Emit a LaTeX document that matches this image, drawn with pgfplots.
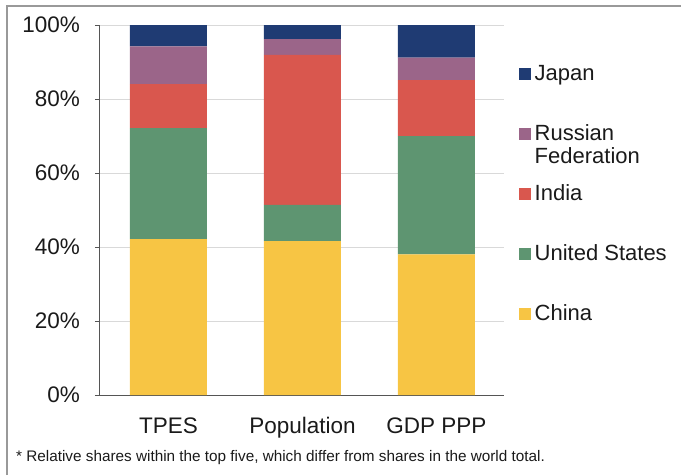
\documentclass[border=0pt]{standalone}
\usepackage{pgfplots}
\pgfplotsset{compat=1.18}
\usepackage{fontspec}
\setmainfont{Liberation Sans}
\definecolor{cJapan}{HTML}{1F3B73}
\definecolor{cRussia}{HTML}{9B6589}
\definecolor{cIndia}{HTML}{D9574E}
\definecolor{cUS}{HTML}{5E9571}
\definecolor{cChina}{HTML}{F7C544}
\definecolor{txt}{HTML}{1A1A1A}
\definecolor{axl}{HTML}{555555}
\definecolor{grd}{HTML}{D9D9D9}
\pgfplotsset{sqleg/.style={legend image code/.code={\fill[##1] (0pt,-4.5pt) rectangle (11.5pt,7pt);}}}
\pgfplotstableread{
x China US India Russia Japan
0 42.1 30.0 11.9 10.2 5.8
1 41.6 9.8 40.5 4.3 3.8
2 38.0 32.0 15.1 6.1 8.8
}\shares
\begin{document}
\begin{tikzpicture}
\useasboundingbox (0pt,0pt) rectangle (681pt,475pt);
\draw[color=gray!80, line width=1.2pt] (7pt,0pt) -- (7pt,469pt) -- (681pt,469pt);
\begin{axis}[
  at={(100pt,80pt)}, anchor=south west,
  width=404pt, height=370pt, scale only axis,
  ybar stacked, bar width=77pt,
  xmin=-0.511, xmax=2.504, ymin=0, ymax=100,
  xtick={0,1,2}, xticklabels={TPES,Population,GDP PPP},
  ytick={0,20,40,60,80,100},
  yticklabels={0\%,20\%,40\%,60\%,80\%,100\%},
  axis x line=bottom, axis y line=left,
  axis line style={axl, line width=1pt, -},
  x axis line style={-},
  y axis line style={-},
  xtick style={draw=none},
  ytick style={axl, line width=0.8pt},
  tick align=outside, major tick length=5pt,
  ymajorgrids, grid style={grd, line width=0.8pt},
  tick label style={font=\fontsize{22.5}{26}\selectfont, text=txt},
  x tick label style={anchor=base, inner sep=0pt, yshift=-33pt},
  y tick label style={anchor=east, inner sep=0pt, xshift=-15pt},
  reverse legend,
  legend cell align=left,
  legend style={draw=none, fill=none, at={(rel axis cs:1,1)}, anchor=north west,
    xshift=15pt, yshift=-39pt, inner sep=0pt, row sep=38pt, column sep=4pt,
    font=\fontsize{22}{26}\selectfont, text=txt,
    nodes={inner sep=0pt, text height=16pt, text depth=6pt}},
]
\addplot[fill=cChina, draw=none, sqleg] table[x=x, y=China] {\shares};
\addplot[fill=cUS, draw=none, sqleg] table[x=x, y=US] {\shares};
\addplot[fill=cIndia, draw=none, sqleg] table[x=x, y=India] {\shares};
\addplot[fill=cRussia, draw=none, sqleg] table[x=x, y=Russia] {\shares};
\addplot[fill=cJapan, draw=none, sqleg] table[x=x, y=Japan] {\shares};
\legend{China,United States,India,{\smash{\begin{tabular}[t]{@{}l@{}}Russian\\[-3pt]Federation\end{tabular}}},Japan}
\end{axis}
\node[anchor=base west, inner sep=0pt, text=txt, font=\fontsize{15.3}{18}\selectfont] at (16pt,14pt) {* Relative shares within the top five, which differ from shares in the world total.};
\end{tikzpicture}
\end{document}
